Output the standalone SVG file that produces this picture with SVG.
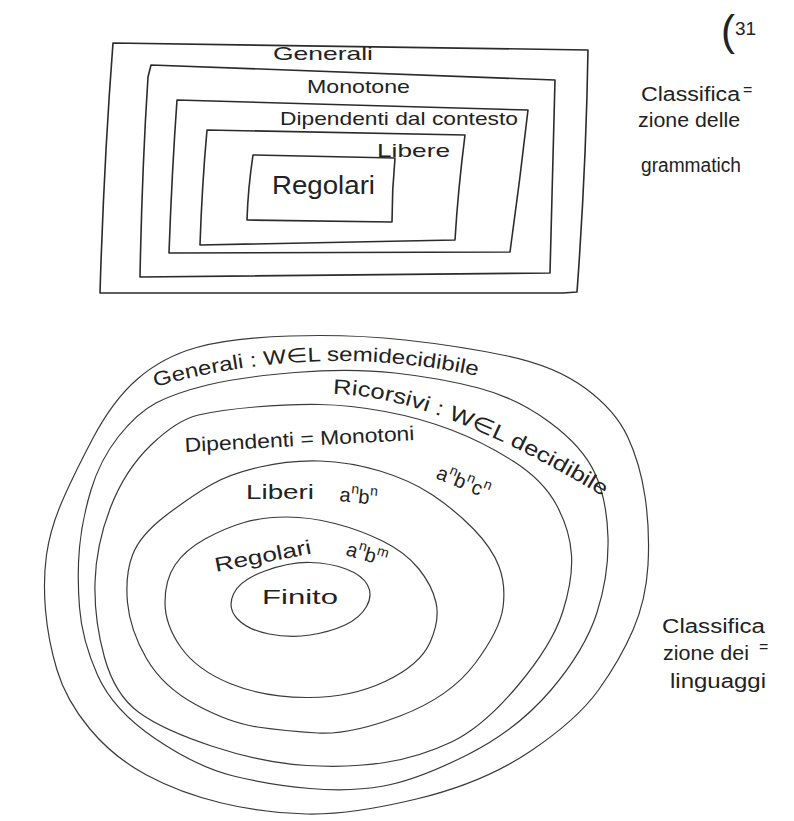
<svg xmlns="http://www.w3.org/2000/svg" width="794" height="821" viewBox="0 0 794 821">
<style>
.box{fill:none;stroke:#2b2b2b;stroke-width:1.6;stroke-linejoin:round;stroke-linecap:round}
.ring{fill:none;stroke:#3a3a3a;stroke-width:1.2}
.t{font-family:"Liberation Sans","DejaVu Sans",sans-serif;fill:#222;font-size:20px}
.sup{font-size:14px}
</style>
<defs>
<path id="pGen" d="M 155 387 Q 320 340 487 378"/>
<path id="pRic" d="M 333 394 Q 440 396 612 502"/>
</defs>
<rect width="794" height="821" fill="#fff"/>

<g id="page-number">
<text class="t" x="721" y="45" style="font-size:42px;font-weight:300">(</text>
<text class="t" x="735" y="35" style="font-size:19px">31</text>
</g>

<g id="grammar-classification">
<g id="g-generali">
<path class="box" d="M 113 43 L 588 50 Q 586 170 577 292 L 563 293 L 100 293 Q 104 160 113 43 Z"/>
<text class="t" x="273" y="60" style="font-size:19px" textLength="100" lengthAdjust="spacingAndGlyphs">Generali</text>
</g>
<g id="g-monotone">
<path class="box" d="M 151 65 L 555 80 Q 552 180 550 273 L 140 277 Q 142 170 148 77 Z"/>
<text class="t" x="307" y="93" style="font-size:19px" textLength="103" lengthAdjust="spacingAndGlyphs">Monotone</text>
</g>
<g id="g-dipendenti">
<path class="box" d="M 177 100 L 528 110 Q 520 180 510 252 L 169 253 Q 172 170 177 100 Z"/>
<text class="t" x="280" y="125" style="font-size:19px" textLength="238" lengthAdjust="spacingAndGlyphs">Dipendenti dal contesto</text>
</g>
<g id="g-libere">
<path class="box" d="M 207 130 L 465 135 Q 458 190 455 240 L 200 245 Q 202 185 207 130 Z"/>
<text class="t" x="377" y="157" style="font-size:19px" textLength="73" lengthAdjust="spacingAndGlyphs">Libere</text>
</g>
<g id="g-regolari">
<path class="box" d="M 253 155 L 395 158 Q 392 190 392 222 L 247 220 Q 248 188 253 155 Z"/>
<text class="t" x="272" y="194" style="font-size:26px" textLength="103" lengthAdjust="spacingAndGlyphs">Regolari</text>
</g>
<g id="g-caption">
<text class="t" x="641" y="101" textLength="99" lengthAdjust="spacingAndGlyphs">Classifica</text>
<text class="t" x="743" y="95" style="font-size:16px">=</text>
<text class="t" x="638" y="127" textLength="102" lengthAdjust="spacingAndGlyphs">zione delle</text>
<text class="t" x="641" y="172" textLength="100" lengthAdjust="spacingAndGlyphs">grammatich</text>
</g>
</g>

<g id="language-classification">
<g id="l-generali">
<path class="ring" d="M 196.5 347.5 Q 230 338 290 336 Q 350 334 405 340 Q 460 346 507.5 356 Q 555 366 585 388 Q 615 410 627.5 436.5 Q 640 463 645 496.5 Q 650 530 648 565 Q 646 600 633 630 Q 620 660 598.5 690 Q 577 720 530 751.5 Q 483 783 416.5 799 Q 350 815 306.5 814 Q 263 813 221.5 803 Q 180 793 146.5 775 Q 113 757 89.5 728.5 Q 66 700 57 670 Q 48 640 45.5 610 Q 43 580 46.5 555 Q 50 530 61 504 Q 72 478 92.5 439 Q 113 400 138 378.5 Q 163 357 196.5 347.5 Z"/>
<text class="t"><textPath href="#pGen" textLength="326" lengthAdjust="spacingAndGlyphs">Generali : W∈L semidecidibile</textPath></text>
</g>
<g id="l-ricorsivi">
<path class="ring" d="M 156 403 Q 175 393 207.5 385 Q 240 377 295 372.5 Q 350 368 395 373 Q 440 378 478.5 388 Q 517 398 550 422.5 Q 583 447 595 473.5 Q 607 500 608 537.5 Q 609 575 597 612.5 Q 585 650 551 690 Q 517 730 467 755 Q 417 780 383.5 786 Q 350 792 310 788.5 Q 270 785 233.5 776 Q 197 767 155 738.5 Q 113 710 97.5 675 Q 82 640 79.5 607.5 Q 77 575 79.5 547.5 Q 82 520 91 490 Q 100 460 118.5 436.5 Q 137 413 156 403 Z"/>
<text class="t" style="font-size:21px"><textPath href="#pRic" textLength="292" lengthAdjust="spacingAndGlyphs">Ricorsivi : W∈L decidibile</textPath></text>
</g>
<g id="l-dipendenti">
<path class="ring" d="M 198.5 415 Q 220 410 255 407 Q 290 404 320 404.5 Q 350 405 385 411.5 Q 420 418 451.5 430 Q 483 442 513 461 Q 543 480 556.5 505 Q 570 530 571.5 555 Q 573 580 562.5 612.5 Q 552 645 517.5 686 Q 483 727 451.5 742 Q 420 757 385 762.5 Q 350 768 306.5 765.5 Q 263 763 213 746.5 Q 163 730 139 712.5 Q 115 695 104.5 657.5 Q 94 620 95 582.5 Q 96 545 110.5 507.5 Q 125 470 151 445 Q 177 420 198.5 415 Z"/>
<text class="t" x="185" y="452" transform="rotate(-3 185 452)" textLength="230" lengthAdjust="spacingAndGlyphs">Dipendenti = Monotoni</text>
<text class="t" x="435" y="478" transform="rotate(22 435 478)">a<tspan class="sup" dy="-9">n</tspan><tspan dy="9">b</tspan><tspan class="sup" dy="-9">n</tspan><tspan dy="9">c</tspan><tspan class="sup" dy="-9">n</tspan></text>
</g>
<g id="l-liberi">
<path class="ring" d="M 211.5 484.5 Q 230 474 260 467 Q 290 460 320 461 Q 350 462 380 471 Q 410 480 432.5 495 Q 455 510 473.5 529 Q 492 548 499 566.5 Q 506 585 503 607.5 Q 500 630 475 663.5 Q 450 697 400 716 Q 350 735 317.5 733 Q 285 731 257.5 727 Q 230 723 196.5 705 Q 163 687 146.5 658.5 Q 130 630 127.5 602.5 Q 125 575 132.5 555 Q 140 535 166.5 515 Q 193 495 211.5 484.5 Z"/>
<text class="t" x="246" y="499" textLength="68" lengthAdjust="spacingAndGlyphs">Liberi</text>
<text class="t" x="339" y="501" transform="rotate(6 339 501)">a<tspan class="sup" dy="-9">n</tspan><tspan dy="9">b</tspan><tspan class="sup" dy="-9">n</tspan></text>
</g>
<g id="l-regolari">
<path class="ring" d="M 244 522.5 Q 263 517 286.5 517 Q 310 517 335 523.5 Q 360 530 382.5 541 Q 405 552 418.5 568.5 Q 432 585 436 602.5 Q 440 620 430 642.5 Q 420 665 385 681.5 Q 350 698 306.5 697.5 Q 263 697 230 683.5 Q 197 670 181 647.5 Q 165 625 165 602.5 Q 165 580 175 565 Q 185 550 205 539 Q 225 528 244 522.5 Z"/>
<text class="t" x="216" y="572" transform="rotate(-11 216 572)" textLength="98" lengthAdjust="spacingAndGlyphs">Regolari</text>
<text class="t" x="345" y="555" transform="rotate(16 345 555)">a<tspan class="sup" dy="-9">n</tspan><tspan dy="9">b</tspan><tspan class="sup" dy="-9">m</tspan></text>
</g>
<g id="l-finito">
<path class="ring" d="M 265 571 Q 290 562 310 562.5 Q 330 563 346 569 Q 362 575 367.5 585 Q 373 595 366.5 606.5 Q 360 618 345 625 Q 330 632 310 635 Q 290 638 269 634 Q 248 630 237.5 619 Q 227 608 233.5 594 Q 240 580 265 571 Z"/>
<text class="t" x="262" y="604" textLength="76" lengthAdjust="spacingAndGlyphs">Finito</text>
</g>
<g id="l-caption">
<text class="t" x="662" y="633" textLength="103" lengthAdjust="spacingAndGlyphs">Classifica</text>
<text class="t" x="759" y="652" style="font-size:16px">=</text>
<text class="t" x="663" y="660" textLength="86" lengthAdjust="spacingAndGlyphs">zione dei</text>
<text class="t" x="670" y="688" textLength="96" lengthAdjust="spacingAndGlyphs">linguaggi</text>
</g>
</g>
<g id="connectors"/>
</svg>
